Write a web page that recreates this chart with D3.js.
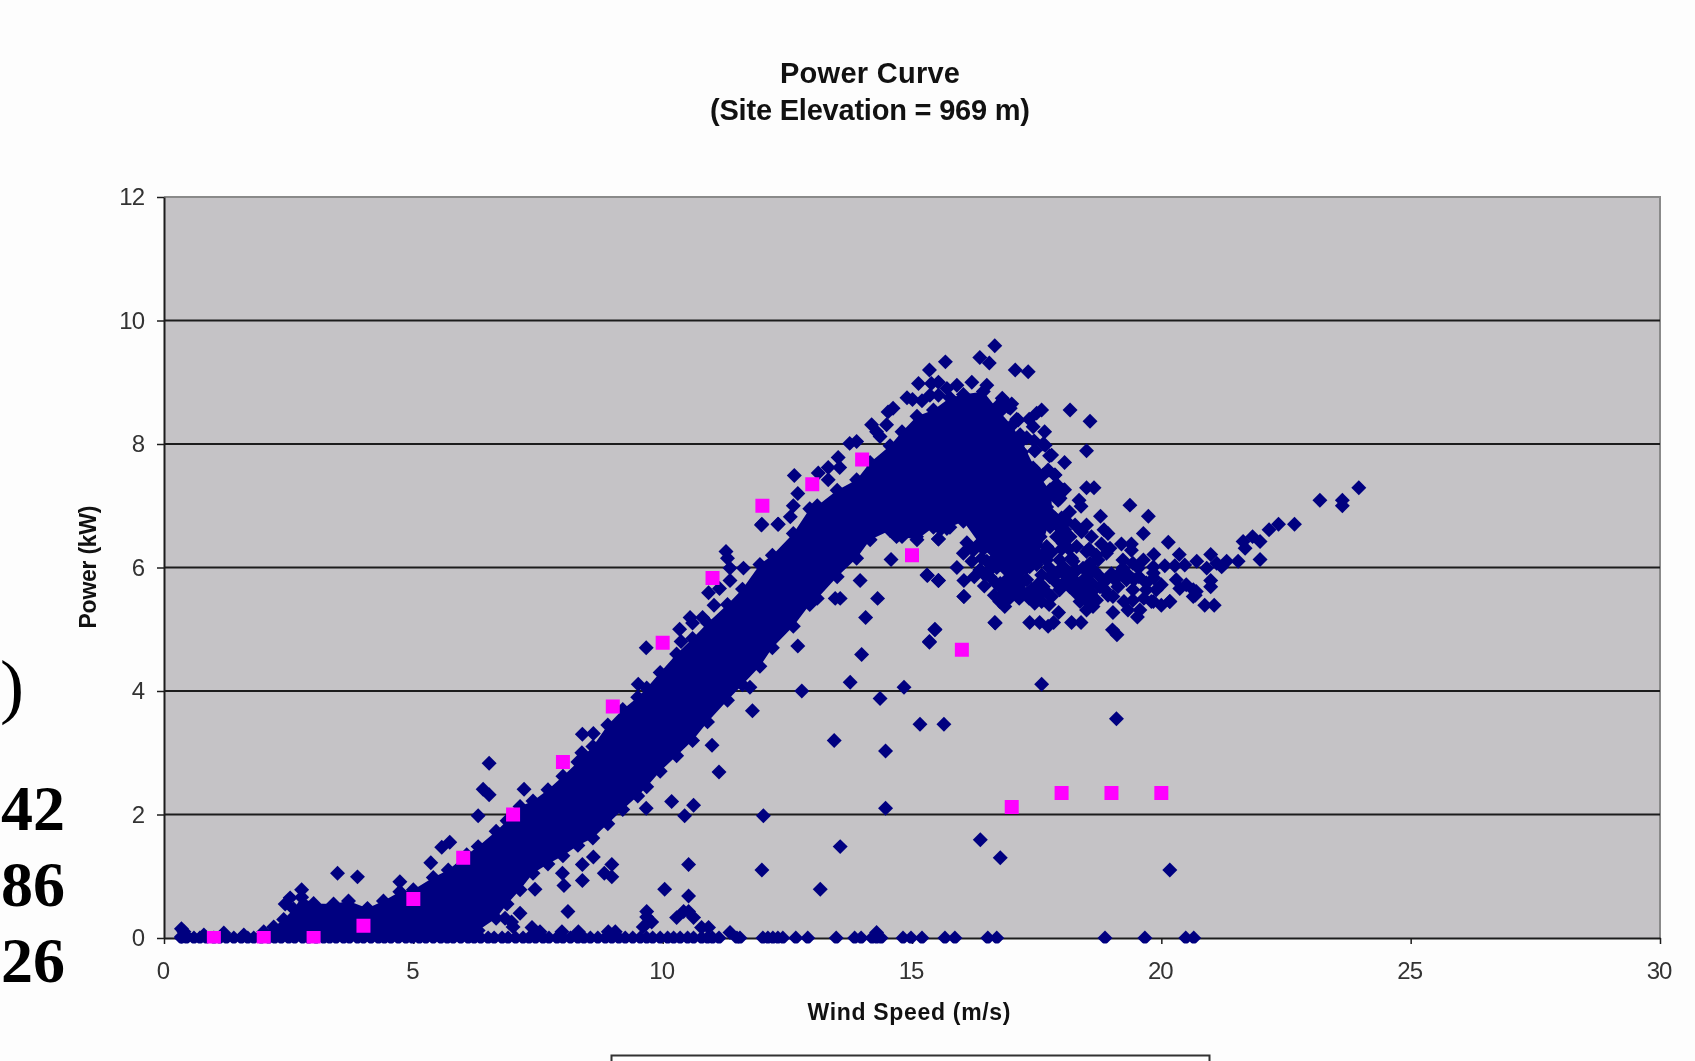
<!DOCTYPE html>
<html><head><meta charset="utf-8">
<style>html,body{margin:0;padding:0;background:#fdfdfd;overflow:hidden}svg{display:block;filter:blur(0.45px)}</style>
<script src="https://cdn.jsdelivr.net/npm/d3@7"></script></head><body>
<svg id="c" width="1695" height="1061"></svg>
<script>
const titleLines=["Power Curve","(Site Elevation = 969 m)"];
const xTitle="Wind Speed (m/s)", yTitle="Power (kW)";
const xTicks=[0,5,10,15,20,25,30], yTicks=[0,2,4,6,8,10,12];
const clippedText=[")","42","86","26"];
// Overplotted mass of the measurements: wind speed, lower and upper edge of the solid region
const massWind=[0.4,0.8,1.2,1.6,2.0,2.2,2.4,2.6,2.76,3.0,3.4,3.7,4.08,4.4,4.73,5.0,5.4,5.7,6.07,6.3,6.66,6.88,7.14,7.4,7.7,8.0,8.3,8.6,8.9,9.2,9.5,9.68,9.95,10.28,10.6,10.9,11.3,11.6,11.95,12.2,12.62,12.95,13.1,13.5,13.89,14.16,14.56,14.8,15.1,15.43,15.76,16.03,16.43,16.76,17.0,17.2,17.5,17.8];
const massLow=[0,0,0,0,0,0,0,0,0,0,0,0,0,0,0,0,0,0,0,0.12,0.32,0.55,0.78,1.05,1.2,1.33,1.5,1.62,1.85,2.08,2.3,2.45,2.7,2.95,3.2,3.5,3.85,4.1,4.4,4.7,5.05,5.4,5.5,5.85,6.15,6.45,6.6,6.5,6.45,6.65,6.65,6.75,6.3,6.05,5.95,5.95,6.1,6.85];
const massHigh=[0.1,0.05,0.08,0.05,0.1,0.18,0.3,0.47,0.66,0.56,0.55,0.6,0.48,0.6,0.75,0.78,0.98,1.1,1.35,1.48,1.73,1.9,2.13,2.22,2.4,2.62,2.85,3.1,3.45,3.7,3.9,4.05,4.3,4.6,4.85,5.1,5.4,5.65,6.05,6.2,6.55,6.95,7.0,7.25,7.42,7.7,7.97,8.2,8.45,8.55,8.75,8.8,8.85,8.52,8.3,8.05,7.55,7.2];
// Readings that lie on the zero line
const zeroWind=[0.35,0.45,0.6,0.72,0.85,1.0,1.12,1.25,1.4,1.55,1.68,1.8,1.95,2.1,2.22,2.35,2.5,2.62,2.78,2.9,3.05,3.2,3.32,3.45,3.6,3.72,3.88,4.0,4.15,4.3,4.42,4.55,4.7,4.85,4.98,5.12,5.25,5.4,5.55,5.68,5.8,5.95,6.1,6.22,6.35,6.5,6.62,6.78,6.9,7.05,7.2,7.32,7.45,7.6,7.72,7.88,8.0,8.15,8.3,8.42,8.55,8.7,8.85,8.98,9.12,9.25,9.4,9.55,9.68,9.8,9.95,10.1,10.22,10.35,10.5,10.62,10.78,10.9,11.0,11.13,11.49,11.55,12.01,12.11,12.21,12.31,12.41,12.67,12.91,13.48,13.85,13.98,14.2,14.29,14.38,14.82,14.98,15.2,15.66,15.86,16.52,16.7,18.87,19.67,20.49,20.65];
// Individually visible points
const pointWind=[0.35,0.35,3.48,3.88,6.52,6.4,6.52,6.3,5.73,5.57,5.35,4.73,2.76,2.53,2.43,8.61,8.39,8.98,7.99,8.83,8.98,8.39,8.02,7.44,10.52,10.04,10.52,8.1,7.14,6.97,6.84,7.0,7.38,9.68,9.68,9.78,9.61,10.28,10.42,10.52,10.62,10.78,10.92,11.35,7.98,8.31,7.54,9.05,8.91,14.29,9.67,10.18,10.62,10.44,12.02,14.47,11.99,13.56,13.16,16.37,16.77,11.8,10.99,11.13,11.75,12.79,12.71,13.99,13.76,13.44,14.47,15.16,15.64,14.36,14.84,15.46,15.35,14.07,14.31,13.46,13.56,13.96,15.3,15.53,16.04,16.04,16.67,16.37,17.6,19.1,20.17,9.67,10.37,10.34,10.55,10.8,10.6,11.03,10.92,11.14,11.35,11.35,11.62,8.39,8.61,8.38,7.22,9.51,10.35,11.27,11.3,11.99,12.31,12.62,
15.67,15.35,15.13,15.39,15.53,15.36,15.53,15.01,14.62,14.52,14.19,14.29,14.36,14.49,13.75,13.89,13.52,13.32,13.55,13.12,12.64,12.71,13.32,12.32,11.98,12.56,16.81,16.93,16.7,15.53,14.58,14.69,15.59,16.66,16.36,16.55,17.07,17.33,18.17,18.57,17.66,17.63,17.46,17.76,18.06,18.5,17.16,17.43,17.73,17.86,18.06,17.93,18.5,18.65,18.35,18.39,18.16,17.86,18.78,19.37,19.74,18.27,18.5,18.06,18.4,18.85,18.93,18.6,19.64,20.14,17.9,17.7,18.03,18.3,18.8,18.97,19.2,19.4,18.9,19.4,18.5,19.85,20.36,20.99,20.71,19.23,19.64,19.43,19.23,19.54,19.84,20.07,20.27,20.47,20.91,21.11,21.31,21.54,21.21,19.3,19.84,19.85,19.45,19.07,20.3,20.99,20.99,20.5,20.37,20.64,20.7,20.64,20,19.9,19.7,19.13,19.43,19.03,18.87,18.93,19.43,19.8,20.17,20,20.87,21.06,19.57,19.33,19.52,19.03,19.02,19.11,17.94,16.66,17.36,17.56,17.73,17.84,18.2,18.39,17.46,16.76,16.86,18.63,18.5,18.37,18.7,18.3,18.57,18.77,18.5,18.37,18.16,17.96,17.76,18.03,17.8,17.63,17.3,17.36,17.1,16.83,17.03,17.23,16.69,16.89,16.46,17.7,17.96,18.23,18.57,18.73,18.43,18.77,18.16,17.96,17.23,17.6,21.98,21.68,21.64,21.83,21.98,22.16,22.35,22.67,23.18,23.63,23.63,23.96,20.68,20.17,19.84,15.46,15.35,16.04,15.53,15.31,15.53];
const pointPower=[0.15,0.02,1.05,0.99,2.83,2.41,2.32,1.98,1.55,1.47,1.22,0.91,0.78,0.65,0.55,1.31,1.19,1.19,1.05,1.05,0.99,0.93,0.85,0.79,1.19,0.79,0.68,0.43,0.4,0.26,0.32,0.18,0.17,0.43,0.34,0.26,0.18,0.33,0.43,0.43,0.33,0.17,0.17,0.09,0.1,0.1,0.1,0.1,0.1,0.09,2.1,2.21,2.15,1.98,1.98,2.1,1.1,1.48,0.79,1.59,1.3,3.68,3.12,2.69,4.06,4.0,4.73,4.59,4.14,3.2,3.03,3.46,3.46,3.88,4.06,5.0,4.8,5.19,5.5,5.5,5.5,5.79,5.88,5.79,5.79,5.53,5.1,5.96,4.11,3.55,1.1,4.7,4.8,5.0,5.19,5.19,5.1,5.39,5.59,5.66,5.79,5.99,5.99,3.3,3.31,3.0,2.41,4.11,4.53,6.26,6.15,6.7,6.7,7.0,
9.33,9.2,8.98,8.98,9.0,8.79,8.79,8.72,8.58,8.52,8.31,8.2,8.12,8.31,8.01,8.04,7.78,7.62,7.62,7.53,7.49,7.2,7.42,6.7,6.69,6.82,8.74,8.6,8.6,6.46,6.13,6.5,6.63,9.59,9.4,9.31,9.2,9.17,8.55,8.37,8.2,8.0,7.89,7.81,7.7,7.89,7.7,7.61,7.58,7.5,7.26,7.09,7.29,7.29,7.09,6.99,6.9,6.8,6.83,7.01,6.83,6.69,6.69,6.61,6.58,6.61,6.55,6.5,6.55,6.41,6.5,6.34,6.39,6.34,6.38,6.31,6.38,6.38,6.23,6.28,6.26,6.21,6.21,6.21,6.1,6.12,6.12,6.07,5.99,5.99,6.01,6.03,6.03,6.04,5.99,6.07,6.1,6.1,6.01,5.91,5.91,5.83,5.8,5.8,5.8,5.79,5.69,5.72,5.66,5.64,5.61,5.53,5.72,5.64,5.64,5.69,5.64,5.53,5.64,5.55,5.47,5.45,5.45,5.39,5.39,5.39,5.31,5.31,5.2,5.27,4.99,4.91,5.27,5.11,5.11,5.11,5.05,5.11,5.11,5.11,5.42,5.45,5.37,5.37,5.31,5.45,5.47,5.58,5.58,5.69,5.85,5.74,5.91,5.96,5.85,5.74,5.53,5.69,5.8,6.01,5.64,5.64,5.85,5.6,5.74,5.96,5.88,6.12,6.12,6.1,6.07,6.12,5.99,5.85,5.69,5.64,6.07,5.88,6.13,6.31,6.42,6.5,6.42,6.61,6.7,6.7,7.09,7.09,7.0,7.29,5.55,5.45,5.45,4.99,4.79,5.53,5.79,5.87,6.46];
// Further points filling the dense part of the cloud past rated speed
const clusterWind=[16.5,16.7,16.9,17.1,17.3,17.5,17.6,17.8,18.0,18.15,18.2,18.05,17.9,17.75,17.55,17.4,17.2,17.0,16.95,17.15,17.35,17.55,17.7,17.9,18.1,18.3,18.25,18.45,18.6,18.65,18.7,18.55,18.15,17.95,17.8,18.0,17.95,17.8,17.9,18.1,17.75,17.6,18.45,18.55,18.6,18.9,19.0,19.15,19.3,19.55,19.7,19.65,19.25,14.9,15.2,15.7,15.9,16.2,16.5,17.0,17.1,17.35,17.5,17.6,17.45,17.3,
16.83,16.97,17.13,17.43,17.17,17.67,17.47,17.8,17.2,17.17,17.4,17.63,17.87,17.43,17.77,18.03,17.63,17.97,17.43,17.7,17.57,17.83,17.43,17.77,18.03,17.3,17.57,18.17,17.3,17.17,17.17,17.03,16.77,16.23,16.03,15.9,16.36,16.56,16.77,17.03,17.17,15.09,14.96,15.56,15.7,
16.2,16.4,16.6,16.25,16.45,16.65,16.85,16.3,16.1,16.55];
const clusterPower=[6.1,6.0,5.8,5.95,6.0,6.05,6.2,6.25,6.3,6.3,6.15,6.0,5.9,6.0,5.75,5.65,5.75,5.7,5.5,5.5,5.5,5.55,5.6,5.75,5.85,5.95,5.8,5.65,5.75,5.95,6.2,6.3,6.5,6.65,6.7,6.8,7.25,7.2,7.35,6.75,5.4,5.45,5.5,5.45,5.6,5.8,5.9,5.9,5.8,5.85,5.75,5.5,5.45,8.75,8.7,8.9,8.95,9.0,8.95,8.65,8.4,8.4,8.5,8.55,8.05,8.1,
8.71,8.58,8.39,8.28,8.15,7.98,7.9,7.82,7.87,7.69,7.6,7.5,7.5,7.36,7.26,7.25,7.2,7.12,7.06,6.98,6.82,6.77,6.66,6.66,6.6,6.55,6.5,6.5,6.98,7.31,6.77,6.45,6.28,6.28,6.23,6.0,5.96,5.85,5.74,5.58,5.8,6.5,6.66,6.63,6.63,
6.1,6.15,6.1,5.85,5.7,5.55,5.6,6.35,6.4,5.95];
// Calculated power curve
const curveWind=[1,2,3,4,5,6,7,8,9,10,11,12,13,14,15,16,17,18,19,20];
const curvePower=[0,0,0,0.2,0.63,1.3,2.0,2.85,3.75,4.78,5.83,7.0,7.35,7.75,6.2,4.67,2.12,2.35,2.35,2.35];

const svg=d3.select("#c");
const font="'Liberation Sans',Arial,sans-serif";
const x=d3.scaleLinear().domain([0,30]).range([164,1660]);
const y=d3.scaleLinear().domain([0,12]).range([938,197]);
const navy="#000080", pink="#ff00ff", ink="#1c1c1c";

svg.append("defs").append("clipPath").attr("id","plot").append("rect")
  .attr("x",x(0)).attr("y",y(12)).attr("width",x(30)-x(0)).attr("height",y(0)-y(12)+5.5);

svg.append("rect").attr("x",x(0)).attr("y",y(12)).attr("width",x(30)-x(0)).attr("height",y(0)-y(12)).attr("fill","#c5c3c6");
svg.append("path").attr("d",`M${x(0)},${y(12)}H${x(30)}V${y(0)}`).attr("fill","none").attr("stroke","#8a8a8a").attr("stroke-width",2);
svg.append("g").selectAll("line").data(yTicks.filter(d=>d>0&&d<12)).join("line")
  .attr("x1",x(0)).attr("x2",x(30)).attr("y1",y).attr("y2",y).attr("stroke",ink).attr("stroke-width",2);

const styleAxis=g=>{g.select(".domain").attr("stroke",ink).attr("stroke-width",2);
  g.selectAll(".tick line").attr("stroke",ink).attr("stroke-width",1.5);
  g.selectAll("text").attr("font-family",font).attr("font-size",24).attr("fill","#333").attr("letter-spacing",-1);};
svg.append("g").attr("transform",`translate(0,${y(0)})`)
  .call(d3.axisBottom(x).tickValues(xTicks).tickSize(6).tickPadding(18).tickSizeOuter(0)).call(styleAxis)
  .selectAll("text").attr("dx",-1.5);
svg.append("g").attr("transform",`translate(${x(0)},0)`)
  .call(d3.axisLeft(y).tickValues(yTicks).tickSize(7).tickPadding(13).tickSizeOuter(0)).call(styleAxis);

const marks=svg.append("g").attr("clip-path","url(#plot)");
const rows=massWind.map((w,i)=>({w,lo:massLow[i],hi:massHigh[i]}));
marks.append("path").datum(rows).attr("fill",navy)
  .attr("d",d3.area().x(d=>x(d.w)).y0(d=>y(d.lo)).y1(d=>y(d.hi)));
const diamond={draw(c,s){const r=Math.sqrt(s);c.moveTo(0,-r);c.lineTo(r,0);c.lineTo(0,r);c.lineTo(-r,0);c.closePath();}};
const dia=d3.symbol().type(diamond).size(56);
const pts=[...rows.map(d=>[d.w,d.hi]),...rows.filter(d=>d.lo>0).map(d=>[d.w,d.lo]),
  ...zeroWind.map(w=>[w,0]),...pointWind.map((w,i)=>[w,pointPower[i]]),...clusterWind.map((w,i)=>[w,clusterPower[i]])];
marks.append("g").selectAll("path").data(pts).join("path")
  .attr("transform",d=>`translate(${x(d[0])},${y(d[1])})`).attr("d",dia).attr("fill",navy);
marks.append("g").selectAll("path").data(curveWind.map((w,i)=>[w,curvePower[i]])).join("path")
  .attr("transform",d=>`translate(${x(d[0])},${y(d[1])})`)
  .attr("d",d3.symbol().type(d3.symbolSquare).size(196)).attr("fill",pink);

svg.append("text").attr("x",870).attr("y",83).attr("text-anchor","middle").attr("font-family",font).attr("font-weight",700).attr("font-size",29).attr("textLength",180).attr("fill","#111").text(titleLines[0]);
svg.append("text").attr("x",870).attr("y",120).attr("text-anchor","middle").attr("font-family",font).attr("font-weight",700).attr("font-size",29).attr("textLength",320).attr("fill","#111").text(titleLines[1]);
svg.append("text").attr("x",909).attr("y",1020).attr("text-anchor","middle").attr("font-family",font).attr("font-weight",700).attr("font-size",23).attr("textLength",203).attr("fill","#111").text(xTitle);
svg.append("text").attr("transform","translate(96,567) rotate(-90)").attr("text-anchor","middle").attr("font-family",font).attr("font-weight",700).attr("font-size",23).attr("textLength",123).attr("fill","#111").text(yTitle);

svg.append("path").attr("d","M611.5,1061V1055.5H1209.5V1061").attr("fill","#fff").attr("stroke","#333").attr("stroke-width",2);

const serif="'Liberation Serif','Times New Roman',serif";
svg.append("text").attr("x",0).attr("y",710).attr("font-family",serif).attr("font-size",72).attr("fill","#000").text(clippedText[0]);
[[830,clippedText[1]],[906,clippedText[2]],[982,clippedText[3]]].forEach(([b,t])=>
  svg.append("text").attr("x",1).attr("y",b).attr("font-family",serif).attr("font-weight",700).attr("font-size",64).attr("fill","#000").text(t));
</script></body></html>
